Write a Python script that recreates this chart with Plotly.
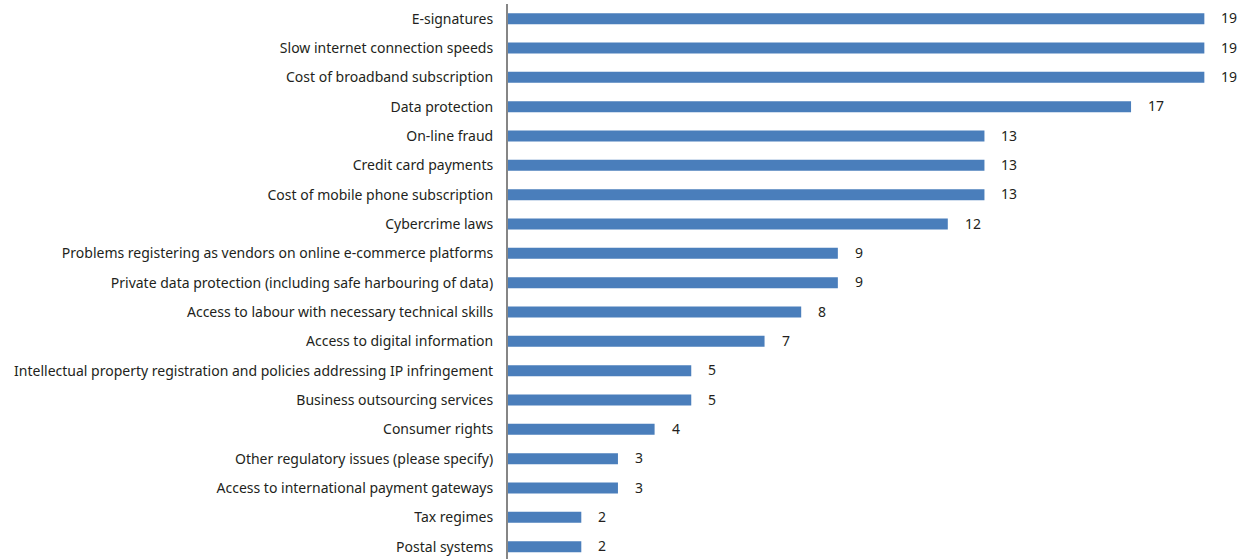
import plotly.graph_objects as go

categories = [
    "E-signatures",
    "Slow internet connection speeds",
    "Cost of broadband subscription",
    "Data protection",
    "On-line fraud",
    "Credit card payments",
    "Cost of mobile phone subscription",
    "Cybercrime laws",
    "Problems registering as vendors on online e-commerce platforms",
    "Private data protection (including safe harbouring of data)",
    "Access to labour with necessary technical skills",
    "Access to digital information",
    "Intellectual property registration and policies addressing IP infringement",
    "Business outsourcing services",
    "Consumer rights",
    "Other regulatory issues (please specify)",
    "Access to international payment gateways",
    "Tax regimes",
    "Postal systems",
]
values = [19, 19, 19, 17, 13, 13, 13, 12, 9, 9, 8, 7, 5, 5, 4, 3, 3, 2, 2]

font_family = "Noto Sans, Open Sans, sans-serif"
text_color = "#231f20"

fig = go.Figure()
fig.add_trace(go.Bar(
    x=values,
    y=categories,
    orientation="h",
    marker=dict(color="#4a7ebb", line=dict(width=0)),
    width=0.375,
    hoverinfo="skip",
))

for c, v in zip(categories, values):
    fig.add_annotation(
        x=v, y=c, text=str(v), showarrow=False,
        xanchor="left", yanchor="middle", xshift=15, yshift=1,
        font=dict(family=font_family, size=14, color=text_color),
    )

fig.update_layout(
    width=1249, height=559,
    margin=dict(l=508, r=8, t=4, b=0),
    plot_bgcolor="white", paper_bgcolor="white",
    showlegend=False,
    hovermode=False,
    xaxis=dict(range=[0, 20], showgrid=False, zeroline=False, showline=False,
               showticklabels=False, ticks="", automargin=False),
    yaxis=dict(range=[18.42, -0.5], showgrid=False, zeroline=False,
               showline=True, linecolor="#868686", linewidth=2,
               ticks="", ticklabelstandoff=10, automargin=False,
               tickfont=dict(family=font_family, size=14, color=text_color)),
)

fig.write_html("out.html",
               config={"displayModeBar": False, "staticPlot": True},
               post_script="document.body.style.margin='0';document.body.style.overflow='hidden';")
